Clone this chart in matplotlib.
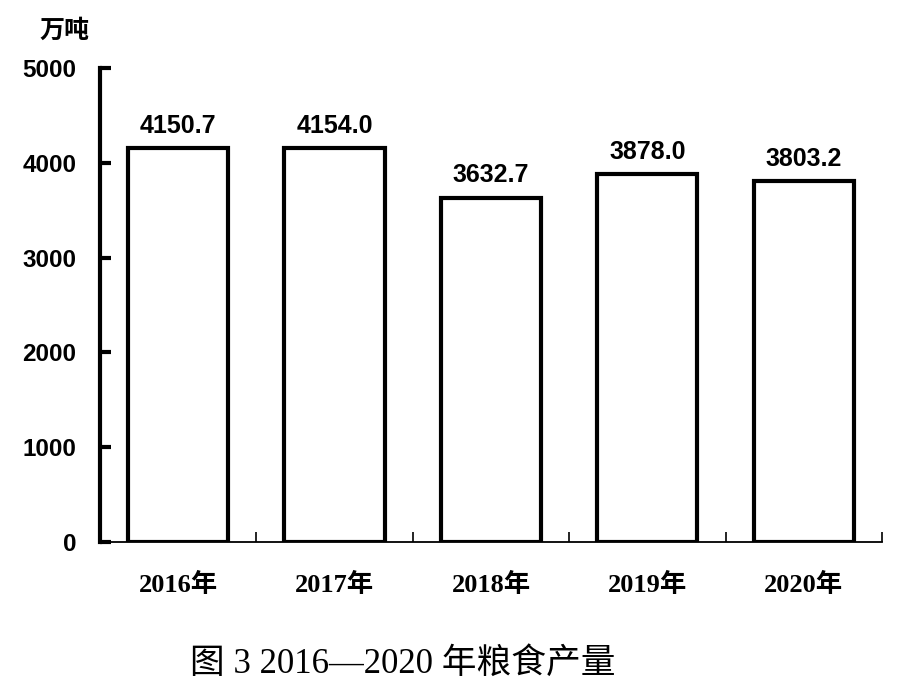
import numpy as np
import matplotlib
matplotlib.use("Agg")
import matplotlib.pyplot as plt

years = ["2016年", "2017年", "2018年", "2019年", "2020年"]
output = [4150.7, 4154.0, 3632.7, 3878.0, 3803.2]
yticks = [0, 1000, 2000, 3000, 4000, 5000]

SANS = ["Liberation Sans", "Noto Sans CJK SC", "DejaVu Sans"]
SERIF = ["Liberation Serif", "Noto Sans CJK SC", "DejaVu Serif"]

fig = plt.figure(figsize=(9, 6.92), dpi=100)
ax = fig.add_axes([0.111, 0.2168, 0.869, 0.685])

x = np.arange(len(years))
bars = ax.bar(x, output, width=0.64, color="white", edgecolor="black", linewidth=3)

for xi, v in zip(x, output):
    ax.text(xi, v + 110, f"{v:.1f}", ha="center", va="bottom",
            fontsize=18, fontweight="bold", family=SANS)

ax.set_xlim(-0.5, len(years) - 0.5)
ax.set_ylim(0, 5000)
ax.set_yticks(yticks)
ax.set_yticklabels([str(t) for t in yticks], fontsize=17.5, fontweight="bold", family=SANS)
ax.tick_params(axis="y", direction="in", length=8, width=3, pad=17)

ax.set_xticks(x)
ax.set_xticklabels(years, fontsize=19, fontweight="bold", family=SERIF)
ax.tick_params(axis="x", which="major", length=0, pad=22)
ax.set_xticks(x + 0.5, minor=True)
ax.tick_params(axis="x", which="minor", direction="in", length=7, width=1.2)

for s in ["top", "right"]:
    ax.spines[s].set_visible(False)
ax.spines["left"].set_linewidth(3)
ax.spines["bottom"].set_linewidth(1.3)

fig.text(0.044, 0.945, "万吨", fontsize=18, fontweight="bold", family=SANS)
fig.text(0.211, 0.028, "图 3 2016—2020 年粮食产量", fontsize=25, ha="left",
         family=["Liberation Serif", "Noto Sans CJK SC"])

fig.savefig("out.png", dpi=100)
